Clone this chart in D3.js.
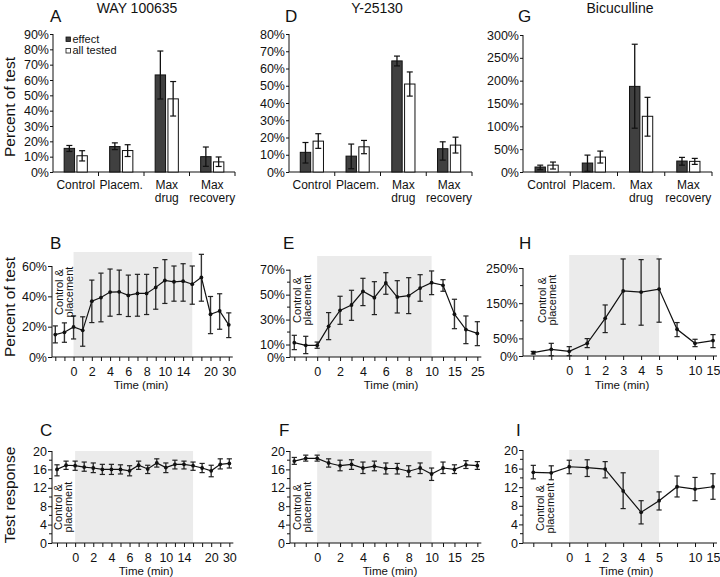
<!DOCTYPE html>
<html><head><meta charset="utf-8">
<script src="https://cdn.jsdelivr.net/npm/d3@7"></script>
<style>
body{margin:0;background:#fff}
svg{display:block}
text{font-family:"Liberation Sans",Arial,sans-serif;fill:#111}
</style>
</head><body>
<svg id="chart" width="720" height="577"></svg>
<script>
// ---------- DATA ----------
const barCategories = [["Control"], ["Placem."], ["Max", "drug"], ["Max", "recovery"]];
const legendLabels = ["effect", "all tested"];
const drugTitles = ["WAY 100635", "Y-25130", "Bicuculline"];

// Panel A (WAY 100635), percent of test
const wayEffect = [15.4, 16.6, 63.3, 10.0];
const wayEffectLo = [13.4, 14.6, 47.6, 3.7];
const wayEffectHi = [17.3, 19.0, 78.9, 16.3];
const wayAll = [10.6, 14.0, 47.7, 6.6];
const wayAllLo = [7.2, 10.1, 36.5, 3.6];
const wayAllHi = [13.9, 17.8, 59.0, 9.8];

// Panel D (Y-25130)
const yEffect = [11.4, 9.2, 64.4, 13.5];
const yEffectLo = [5.2, 1.9, 61.5, 6.9];
const yEffectHi = [17.1, 16.2, 67.2, 17.5];
const yAll = [17.9, 14.6, 51.0, 15.6];
const yAllLo = [13.7, 10.6, 44.0, 11.0];
const yAllHi = [22.2, 18.3, 58.0, 20.2];

// Panel G (Bicuculline)
const bicEffect = [10.9, 19.6, 187.5, 24.0];
const bicEffectLo = [5.0, 1.5, 95.9, 15.0];
const bicEffectHi = [15.0, 37.0, 279.8, 32.0];
const bicAll = [15.0, 32.7, 122.0, 23.3];
const bicAllLo = [6.5, 19.6, 78.5, 16.7];
const bicAllHi = [21.8, 45.8, 163.5, 29.8];

// Time-course x labels (one per sample, blank = unlabeled)
const wayTimeLabels = ["", "", "0", "", "2", "", "4", "", "6", "", "8", "", "10", "", "14", "", "", "20", "", "30"];
const yTimeLabels = ["", "", "0", "", "2", "", "4", "", "6", "", "8", "", "10", "", "15", "", "25"];
const bicTimeLabels = ["", "", "0", "1", "2", "3", "4", "5", "", "10", "15"];

// Panel B: percent of test over time (WAY)
const wayPct = [14.8, 16.3, 19.8, 17.6, 36.8, 39.2, 42.8, 43.0, 40.6, 41.9, 41.9, 45.9, 50.5, 49.6, 50.0, 48.0, 52.5, 28.2, 30.4, 21.2];
const wayPctLo = [9.3, 9.7, 11.9, 7.1, 22.7, 23.2, 26.9, 28.0, 26.7, 26.9, 28.0, 31.5, 35.3, 36.8, 36.8, 34.8, 36.8, 15.4, 18.3, 12.8];
const wayPctHi = [20.5, 22.5, 27.1, 26.5, 50.7, 55.3, 58.0, 57.3, 54.0, 54.5, 54.5, 58.9, 64.2, 60.0, 61.5, 60.0, 67.7, 39.9, 41.7, 29.1];

// Panel E: percent of test over time (Y-25130)
const yPct = [11.5, 9.4, 9.4, 24.6, 37.4, 41.7, 52.7, 47.6, 59.4, 48.1, 49.2, 55.3, 59.6, 57.5, 34.3, 22.0, 18.9];
const yPctLo = [5.9, 2.7, 7.0, 13.9, 26.2, 29.4, 41.2, 34.0, 50.3, 35.3, 34.8, 44.7, 50.0, 52.7, 22.7, 10.7, 9.1];
const yPctHi = [17.4, 16.6, 12.0, 35.6, 48.7, 53.5, 63.1, 60.4, 67.6, 61.2, 63.6, 66.0, 69.0, 62.0, 46.3, 32.9, 28.3];

// Panel H: percent of test over time (Bicuculline)
const bicPct = [9.5, 19.0, 13.3, 36.0, 107.0, 185.0, 181.5, 190.0, 76.0, 36.0, 43.7];
const bicPctLo = [5.7, 1.0, 1.0, 23.8, 66.5, 90.0, 87.5, 96.0, 55.0, 26.6, 23.8];
const bicPctHi = [13.0, 36.0, 26.6, 49.4, 145.0, 275.7, 273.8, 275.7, 95.0, 47.5, 60.8];

// Panel C: test response (WAY)
const wayResp = [16.0, 16.9, 16.8, 16.5, 16.3, 16.0, 16.0, 16.0, 15.7, 16.9, 16.1, 17.4, 16.4, 17.1, 17.1, 16.8, 16.3, 15.7, 17.1, 17.3];
const wayRespLo = [14.6, 16.0, 15.8, 15.6, 15.3, 14.9, 14.9, 15.0, 14.6, 16.0, 15.1, 16.5, 15.3, 16.1, 16.1, 15.8, 15.3, 14.4, 16.1, 16.3];
const wayRespHi = [17.0, 17.8, 17.8, 17.6, 17.4, 17.1, 17.1, 17.0, 16.8, 17.8, 16.9, 18.3, 17.4, 18.0, 17.8, 17.6, 17.3, 16.9, 18.3, 18.3];

// Panel F: test response (Y-25130)
const yResp = [17.8, 18.4, 18.4, 17.4, 16.8, 17.1, 16.3, 16.7, 16.2, 16.2, 15.6, 16.3, 15.0, 16.3, 16.0, 17.0, 16.8];
const yRespLo = [17.1, 17.8, 17.8, 16.5, 15.7, 16.0, 15.1, 15.7, 15.0, 15.0, 14.4, 15.1, 13.6, 15.1, 15.1, 16.2, 16.0];
const yRespHi = [18.6, 19.1, 19.1, 18.3, 18.0, 18.1, 17.6, 17.8, 17.4, 17.3, 16.8, 17.4, 16.3, 17.6, 17.0, 17.9, 17.7];

// Panel I: test response (Bicuculline)
const bicResp = [15.2, 15.1, 16.4, 16.2, 15.9, 11.2, 6.6, 9.1, 12.1, 11.6, 12.1];
const bicRespLo = [13.8, 13.6, 14.9, 14.3, 14.0, 7.4, 4.1, 7.1, 9.9, 9.1, 9.4];
const bicRespHi = [16.7, 16.6, 17.8, 17.9, 17.5, 15.1, 9.1, 11.0, 14.4, 14.1, 14.9];

// ---------- DRAWING ----------
const svg = d3.select("#chart");
const FONT_TICK = "12.5px";
const axisColor = "#111";

function styleAxis(g) {
  g.selectAll("path.domain").remove();
  g.selectAll("line").attr("stroke", axisColor).attr("stroke-width", 1);
  g.selectAll("text").attr("font-size", FONT_TICK).attr("fill", "#111")
    .attr("font-family", '"Liberation Sans",Arial,sans-serif');
}

function barPanel(o) {
  const g = svg.append("g");
  const x = d3.scaleBand().domain(d3.range(barCategories.length)).range([o.x0, o.x1]);
  const y = d3.scaleLinear().domain([0, o.ymax]).range([172, o.ytop]);
  const ya = g.append("g").attr("transform", `translate(${o.x0},0)`)
    .call(d3.axisLeft(y).tickValues(d3.range(0, o.ymax + 0.001, o.ystep)).tickSize(3).tickPadding(1).tickFormat(d => d + "%"));
  styleAxis(ya);
  g.append("line").attr("x1", o.x0).attr("x2", o.x0).attr("y1", y(0)).attr("y2", y(o.ymax)).attr("stroke", axisColor);
  g.append("line").attr("x1", o.x0).attr("x2", o.x1).attr("y1", y(0)).attr("y2", y(0)).attr("stroke", axisColor);
  d3.range(1, barCategories.length + 1).forEach(i => {
    const xx = o.x0 + i * x.bandwidth();
    g.append("line").attr("x1", xx).attr("x2", xx).attr("y1", y(0)).attr("y2", y(0) + 4).attr("stroke", axisColor);
  });
  barCategories.forEach((lines, i) => {
    const t = g.append("text").attr("x", x(i) + x.bandwidth() / 2).attr("y", 189)
      .attr("text-anchor", "middle").attr("font-size", "12px");
    lines.forEach((l, k) => t.append("tspan").attr("x", x(i) + x.bandwidth() / 2).attr("dy", k ? 13 : 0).text(l));
  });
  const bw = 10.4, gap = 2.4;
  const series = [
    {v: o.eff, lo: o.effLo, hi: o.effHi, fill: "#404040", off: -gap / 2 - bw},
    {v: o.all, lo: o.allLo, hi: o.allHi, fill: "#ffffff", off: gap / 2}
  ];
  series.forEach(s => {
    s.v.forEach((v, i) => {
      const cx = x(i) + x.bandwidth() / 2 + s.off;
      g.append("rect").attr("x", cx).attr("y", y(v)).attr("width", bw).attr("height", y(0) - y(v))
        .attr("fill", s.fill).attr("stroke", "#111").attr("stroke-width", 1);
      const ex = cx + bw / 2;
      g.append("line").attr("x1", ex).attr("x2", ex).attr("y1", y(s.lo[i])).attr("y2", y(s.hi[i])).attr("stroke", "#111").attr("stroke-width", 1.3);
      [s.lo[i], s.hi[i]].forEach(e => g.append("line").attr("x1", ex - 3).attr("x2", ex + 3).attr("y1", y(e)).attr("y2", y(e)).attr("stroke", "#111").attr("stroke-width", 1.2));
    });
  });
  svg.append("text").attr("x", o.titleX).attr("y", 13).attr("text-anchor", "middle").attr("font-size", "14px").text(o.title);
  svg.append("text").attr("x", o.letterX).attr("y", 22).attr("font-size", "17px").text(o.letter);
  if (o.legend) {
    legendLabels.forEach((l, k) => {
      g.append("rect").attr("x", 66).attr("y", 37 + k * 11.5).attr("width", 4.5).attr("height", 4.5)
        .attr("fill", k ? "#fff" : "#404040").attr("stroke", "#111").attr("stroke-width", 0.8);
      g.append("text").attr("x", 72.5).attr("y", 42.5 + k * 11.5).attr("font-size", "11px").text(l);
    });
  }
}

function timePanel(o) {
  const g = svg.append("g");
  const n = o.v.length;
  const x = d3.scaleLinear().domain([0, n - 1]).range([o.p0, o.p0 + (n - 1) * o.step]);
  const y = d3.scaleLinear().domain([0, o.ymax]).range([o.ybase, o.ytop]);
  g.append("rect").attr("x", x(o.shade[0])).attr("y", o.shadeTop)
    .attr("width", x(o.shade[1]) - x(o.shade[0])).attr("height", o.ybase - o.shadeTop).attr("fill", "#ebebeb");
  const ya = g.append("g").attr("transform", `translate(${o.ax},0)`)
    .call(d3.axisLeft(y).tickValues(o.yticks).tickSize(4).tickPadding(1).tickFormat(o.yfmt));
  styleAxis(ya);
  if (o.yminor) {
    o.yminor.forEach(t => g.append("line").attr("x1", o.ax - 3).attr("x2", o.ax).attr("y1", y(t)).attr("y2", y(t)).attr("stroke", axisColor));
  }
  g.append("line").attr("x1", o.ax).attr("x2", o.ax).attr("y1", o.ybase).attr("y2", y(o.ymax)).attr("stroke", axisColor);
  const xa = g.append("g").attr("transform", `translate(0,${o.ybase})`)
    .call(d3.axisBottom(x).tickValues(d3.range(n)).tickSize(4).tickPadding(6).tickFormat(i => o.xlabels[i]));
  styleAxis(xa);
  g.append("line").attr("x1", o.ax).attr("x2", x(n - 1) + 4).attr("y1", o.ybase).attr("y2", o.ybase).attr("stroke", axisColor);
  o.v.forEach((v, i) => {
    const ex = x(i);
    g.append("line").attr("x1", ex).attr("x2", ex).attr("y1", y(o.lo[i])).attr("y2", y(o.hi[i])).attr("stroke", "#333").attr("stroke-width", 1.4);
    [o.lo[i], o.hi[i]].forEach(e => g.append("line").attr("x1", ex - 2.6).attr("x2", ex + 2.6).attr("y1", y(e)).attr("y2", y(e)).attr("stroke", "#222").attr("stroke-width", 1.2));
  });
  g.append("path").datum(o.v).attr("fill", "none").attr("stroke", "#111").attr("stroke-width", 1.2)
    .attr("d", d3.line().x((d, i) => x(i)).y(d => y(d)));
  g.selectAll(null).data(o.v).enter().append("circle").attr("cx", (d, i) => x(i)).attr("cy", d => y(d)).attr("r", 1.9).attr("fill", "#111");
  g.append("text").attr("transform", `translate(${o.cp[0]},${o.cp[2]}) rotate(-90)`).attr("text-anchor", "middle").attr("font-size", "11px").text("Control &");
  g.append("text").attr("transform", `translate(${o.cp[1]},${o.cp[2]}) rotate(-90)`).attr("text-anchor", "middle").attr("font-size", "11px").text("placement");
  g.append("text").attr("x", o.timeX).attr("y", o.timeY).attr("text-anchor", "middle").attr("font-size", "11.5px").text("Time (min)");
  svg.append("text").attr("x", o.letterX).attr("y", o.letterY).attr("font-size", "17px").text(o.letter);
}

// Top row
barPanel({x0: 53, x1: 235, ymax: 90, ystep: 10, ytop: 34, eff: wayEffect, effLo: wayEffectLo, effHi: wayEffectHi,
  all: wayAll, allLo: wayAllLo, allHi: wayAllHi, title: drugTitles[0], titleX: 137, letter: "A", letterX: 50, legend: true});
barPanel({x0: 289, x1: 472, ymax: 80, ystep: 10, ytop: 34, eff: yEffect, effLo: yEffectLo, effHi: yEffectHi,
  all: yAll, allLo: yAllLo, allHi: yAllHi, title: drugTitles[1], titleX: 377, letter: "D", letterX: 285});
barPanel({x0: 523, x1: 712, ymax: 300, ystep: 50, ytop: 35, eff: bicEffect, effLo: bicEffectLo, effHi: bicEffectHi,
  all: bicAll, allLo: bicAllLo, allHi: bicAllHi, title: drugTitles[2], titleX: 620, letter: "G", letterX: 518});

// Middle row
const pct = d => d + "%";
timePanel({ax: 52, p0: 55.3, step: 9.13, ybase: 357, ytop: 266, ymax: 60, yticks: [0, 20, 40, 60], yfmt: pct,
  v: wayPct, lo: wayPctLo, hi: wayPctHi, xlabels: wayTimeLabels, shade: [2, 15], shadeTop: 252,
  cp: [63, 73, 292], timeX: 141, timeY: 389, letter: "B", letterX: 50, letterY: 249});
timePanel({ax: 290, p0: 294.3, step: 11.44, ybase: 357, ytop: 269.7, ymax: 70, yticks: [0, 10, 30, 50, 70], yminor: [20, 40, 60], yfmt: pct,
  v: yPct, lo: yPctLo, hi: yPctHi, xlabels: yTimeLabels, shade: [2, 12], shadeTop: 256,
  cp: [301, 311, 300], timeX: 391, timeY: 389, letter: "E", letterX: 283, letterY: 249});
timePanel({ax: 523, p0: 533.3, step: 17.97, ybase: 356, ytop: 268, ymax: 250, yticks: [0, 50, 150, 250], yminor: [100, 200], yfmt: pct,
  v: bicPct, lo: bicPctLo, hi: bicPctHi, xlabels: bicTimeLabels, shade: [2, 7], shadeTop: 255,
  cp: [546, 556, 300], timeX: 622, timeY: 389, letter: "H", letterX: 519, letterY: 249});

// Bottom row
const num = d => d;
timePanel({ax: 52, p0: 57, step: 9.07, ybase: 543, ytop: 451, ymax: 20, yticks: [0, 4, 8, 12, 16, 20], yminor: [2, 6, 10, 14, 18], yfmt: num,
  v: wayResp, lo: wayRespLo, hi: wayRespHi, xlabels: wayTimeLabels, shade: [2, 15], shadeTop: 451,
  cp: [62, 72, 507], timeX: 146, timeY: 575, letter: "C", letterX: 40, letterY: 436});
timePanel({ax: 290, p0: 294.3, step: 11.44, ybase: 543, ytop: 451, ymax: 20, yticks: [0, 4, 8, 12, 16, 20], yminor: [2, 6, 10, 14, 18], yfmt: num,
  v: yResp, lo: yRespLo, hi: yRespHi, xlabels: yTimeLabels, shade: [2, 12], shadeTop: 451,
  cp: [301, 311, 507], timeX: 390, timeY: 575, letter: "F", letterX: 279, letterY: 436});
timePanel({ax: 523, p0: 533.3, step: 17.97, ybase: 543, ytop: 450, ymax: 20, yticks: [0, 4, 8, 12, 16, 20], yminor: [2, 6, 10, 14, 18], yfmt: num,
  v: bicResp, lo: bicRespLo, hi: bicRespHi, xlabels: bicTimeLabels, shade: [2, 7], shadeTop: 450,
  cp: [544, 554, 508], timeX: 626, timeY: 575, letter: "I", letterX: 516, letterY: 436});

// Row y-axis titles
[["Percent of test", 107], ["Percent of test", 307], ["Test response", 495]].forEach(([t, cy]) => {
  svg.append("text").attr("transform", `translate(15,${cy}) rotate(-90)`).attr("text-anchor", "middle")
    .attr("font-size", "15.5px").text(t);
});
</script>
</body></html>
